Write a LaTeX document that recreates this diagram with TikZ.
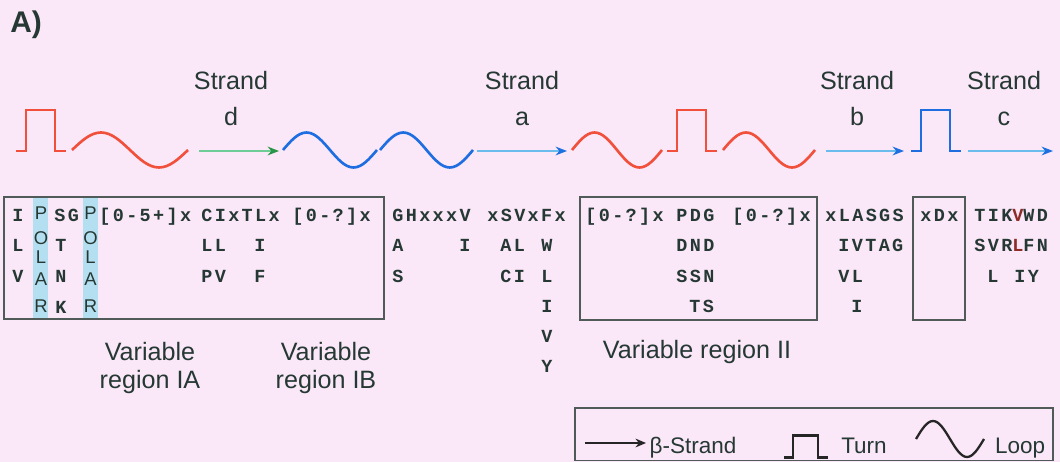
\documentclass[tikz,border=0pt]{standalone}
\usepackage{fontspec}
\setmainfont{Liberation Sans}
\newfontfamily\seqfont[LetterSpace=13]{Liberation Mono}
\usepackage{tikz}
\usetikzlibrary{arrows.meta}

\definecolor{bgpink}{RGB}{250,231,248}
\definecolor{inkgray}{RGB}{38,56,52}
\definecolor{boxgray}{RGB}{80,90,88}
\definecolor{turnred}{RGB}{240,80,60}
\definecolor{waveblue}{RGB}{30,110,225}
\definecolor{greenline}{RGB}{110,205,150}
\definecolor{greentip}{RGB}{40,150,70}
\definecolor{blueline}{RGB}{105,188,236}
\definecolor{bluetip}{RGB}{30,112,225}
\definecolor{polarblue}{RGB}{180,223,240}
\definecolor{markred}{RGB}{140,45,40}

\tikzset{
  seq/.style={font=\seqfont\bfseries\fontsize{10.5}{12}\selectfont,text=inkgray,anchor=base west,inner sep=0pt},
  polar/.style={font=\fontsize{10.5}{12}\selectfont,text=inkgray,anchor=base,inner sep=0pt},
  lbl/.style={font=\fontsize{14.3}{17}\selectfont,text=inkgray,anchor=base,inner sep=0pt},
  legtext/.style={font=\fontsize{12.8}{15}\selectfont,text=inkgray,anchor=base,inner sep=0pt},
  regionbox/.style={draw=boxgray,line width=0.8pt},
  strandarrow/.style 2 args={draw=#1,line width=0.9pt,-{Stealth[length=6.5pt,width=5pt,color=#2]}},
  loopwave/.pic={\draw (0,0) sin (0.25,-1) cos (0.5,0) sin (0.75,1) cos (1,0);},
  turnline/.pic={\draw (0,0) -- (10,0) -- (10,-41) -- (39,-41) -- (39,0) -- (50,0);},
}

\begin{document}
\begin{tikzpicture}[x=0.02cm,y=-0.02cm]
  \fill[bgpink] (0,0) rectangle (1060,462);
  \useasboundingbox (0,0) rectangle (1060,462);

  \node[font=\bfseries\fontsize{17}{20}\selectfont,text=inkgray,anchor=base west,inner sep=0pt] (panel) at (10,33) {A)};

  % topology row
  \pic[turnred,line width=1.5pt] at (16,151) {turnline};
  \pic[turnred,line width=1.5pt,xscale=116,yscale=17.5] at (72,150) {loopwave};
  \pic[waveblue,line width=1.5pt,xscale=94,yscale=17.5] at (283,150) {loopwave};
  \pic[waveblue,line width=1.5pt,xscale=93,yscale=17.5] at (380,150) {loopwave};
  \pic[turnred,line width=1.5pt,xscale=90,yscale=17.5] at (572,150) {loopwave};
  \pic[turnred,line width=1.5pt] at (667,151) {turnline};
  \pic[turnred,line width=1.5pt,xscale=92,yscale=17.5] at (723,150) {loopwave};
  \pic[waveblue,line width=1.5pt] at (911,151) {turnline};

  \coordinate (dtail) at (199,151);
  \coordinate (dtip) at (279,151);
  \coordinate (atail) at (477,151);
  \coordinate (atip) at (567,151);
  \coordinate (btail) at (826,151);
  \coordinate (btip) at (904,151);
  \coordinate (ctail) at (968,151);
  \coordinate (ctip) at (1053,151);
  \draw[strandarrow={greenline}{greentip}] (dtail) -- (dtip);
  \draw[strandarrow={blueline}{bluetip}] (atail) -- (atip);
  \draw[strandarrow={blueline}{bluetip}] (btail) -- (btip);
  \draw[strandarrow={blueline}{bluetip}] (ctail) -- (ctip);

  \node[lbl] (strd) at (231,90) {Strand};
  \node[lbl] (lbld) at (231,126) {d};
  \node[lbl] (stra) at (522,90) {Strand};
  \node[lbl] (lbla) at (522,126) {a};
  \node[lbl] (strb) at (857,90) {Strand};
  \node[lbl] (lblb) at (857,126) {b};
  \node[lbl] (strc) at (1004,90) {Strand};
  \node[lbl] (lblc) at (1004,126) {c};

  % sequence boxes
  \fill[polarblue] (33,197) rectangle (48,319);
  \fill[polarblue] (83,197) rectangle (98,319);
  \draw[regionbox] (4,197) rectangle (384,319);
  \draw[regionbox] (580,197) rectangle (817,320);
  \draw[regionbox] (913,197) rectangle (965,320);

  \foreach \ch/\y [count=\i] in {P/220,O/245,L/263,A/285,R/312}{
    \node[polar] (pola\i) at (41,\y) {\ch};
    \node[polar] (polb\i) at (90.5,\y) {\ch};
  }

  \foreach \x/\y/\t [count=\i] in {
      12/222/I, 12/252/L, 12/282/V,
      54/222/SG, 55/252/T, 55/282/N, 55/313/K,
      99/222/[0-5+]x,
      201/222/CIxTLx, 201/252/LL, 201/282/PV, 254/252/I, 254/282/F,
      292/222/[0-?]x,
      392/222/GHxxxV, 392/252/A, 392/282/S, 459/252/I,
      487/222/xSVxFx, 500/252/AL, 500/282/CI,
      541/252/W, 541/282/L, 541/312/I, 541/342/V, 541/372/Y,
      585/222/[0-?]x, 676/222/PDG, 676/252/DND, 676/282/SSN, 689/312/TS,
      732/222/[0-?]x,
      825/222/xLASGS, 838/252/IVTAG, 838/282/VL, 851/312/I,
      920/222/xDx,
      974/222/TIK{\color{markred}V}WD, 974/252/SVR{\color{markred}L}FN,
      987/282/L, 1014/282/IY}{
    \node[seq] (sq\i) at (\x,\y) {\t};
  }

  \node[lbl] (varia) at (150,360) {Variable};
  \node[lbl] (regia) at (150,388) {region IA};
  \node[lbl] (varib) at (326,360) {Variable};
  \node[lbl] (regib) at (326,388) {region IB};
  \node[lbl] (varii) at (697,358) {Variable region II};

  % legend
  \draw[regionbox] (575,408) rectangle (1053,460.5);
  \coordinate (ltail) at (585,443);
  \coordinate (ltip) at (646,443);
  \draw[black!85,line width=0.8pt,-{Stealth[length=6pt,width=5pt]}] (ltail) -- (ltip);
  \node[legtext] (lstrand) at (693,453) {β-Strand};
  \pic[black!85,line width=1.3pt,xscale=0.88,yscale=0.54] at (784,457.5) {turnline};
  \node[legtext] (lturn) at (864,453) {Turn};
  \pic[black!85,line width=1.3pt,xscale=68,yscale=18] at (916,439) {loopwave};
  \node[legtext] (lloop) at (1020,453) {Loop};
\end{tikzpicture}
\end{document}
